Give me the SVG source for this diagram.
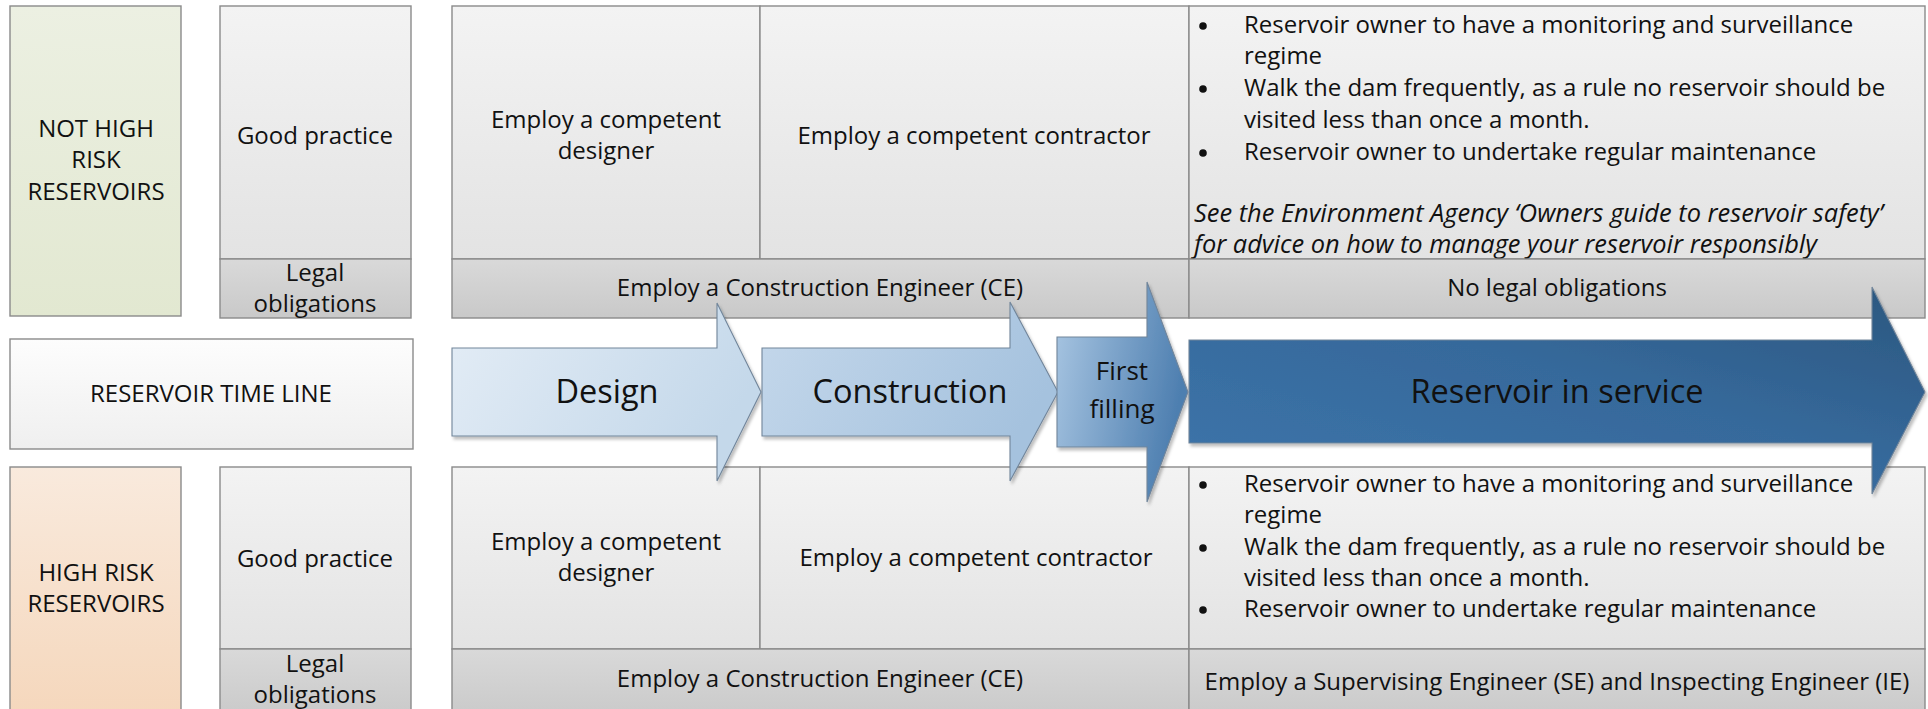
<svg xmlns="http://www.w3.org/2000/svg" width="1928" height="709" viewBox="0 0 1928 709">
  <defs>
    <linearGradient id="gGreen" x1="0" y1="0" x2="0" y2="1">
      <stop offset="0" stop-color="#ecf0e2"/>
      <stop offset="1" stop-color="#e2e8d1"/>
    </linearGradient>
    <linearGradient id="gPeach" x1="0" y1="0" x2="0" y2="1">
      <stop offset="0" stop-color="#f9eadd"/>
      <stop offset="1" stop-color="#f5d7bc"/>
    </linearGradient>
    <linearGradient id="gPanel" x1="0" y1="0" x2="0" y2="1">
      <stop offset="0" stop-color="#f3f3f3"/>
      <stop offset="1" stop-color="#e3e3e3"/>
    </linearGradient>
    <linearGradient id="gBand" x1="0" y1="0" x2="0" y2="1">
      <stop offset="0" stop-color="#d9d9d9"/>
      <stop offset="1" stop-color="#c9c9c9"/>
    </linearGradient>
    <linearGradient id="gTime" x1="0" y1="0" x2="0" y2="1">
      <stop offset="0" stop-color="#fdfdfd"/>
      <stop offset="1" stop-color="#efefef"/>
    </linearGradient>
    <linearGradient id="gDesign" x1="0" y1="0" x2="1" y2="0.4">
      <stop offset="0" stop-color="#e4edf6"/>
      <stop offset="1" stop-color="#c4d8ea"/>
    </linearGradient>
    <linearGradient id="gConstr" x1="0" y1="0" x2="1" y2="0.4">
      <stop offset="0" stop-color="#c5d8eb"/>
      <stop offset="1" stop-color="#a5c2de"/>
    </linearGradient>
    <linearGradient id="gFill" x1="0" y1="0" x2="1" y2="0.3">
      <stop offset="0" stop-color="#aac7e3"/>
      <stop offset="1" stop-color="#4e7fb0"/>
    </linearGradient>
    <linearGradient id="gService" x1="0" y1="1" x2="1" y2="0">
      <stop offset="0" stop-color="#3d75ab"/>
      <stop offset="0.55" stop-color="#36699b"/>
      <stop offset="1" stop-color="#2b577f"/>
    </linearGradient>
    <filter id="shadow" x="-5%" y="-5%" width="110%" height="115%">
      <feDropShadow dx="2" dy="3" stdDeviation="1.5" flood-color="#000" flood-opacity="0.25"/>
    </filter>
    <style>
      .box { stroke: #8a8a8a; stroke-width: 1.4; }
      .arrow { stroke: #71859a; stroke-width: 1.1; filter: url(#shadow); }
      .dot { fill: #111; }
      text { font-family: "Open Sans", "Noto Sans", "DejaVu Sans", sans-serif; fill: #111; }
      .t { font-size: 24px; }
      .c { text-anchor: middle; }
      .it { font-style: italic; font-size: 25.4px; }
      .big { font-size: 32.5px; text-anchor: middle; }
      .mid { font-size: 26px; text-anchor: middle; }
    </style>
  </defs>

  <!-- row labels -->
  <g id="not-high-risk">
    <rect class="box" x="10" y="6" width="171" height="310" fill="url(#gGreen)"/>
    <text class="t c" x="96" y="137">NOT HIGH</text>
    <text class="t c" x="96" y="168">RISK</text>
    <text class="t c" x="96" y="200">RESERVOIRS</text>
  </g>

  <g id="time-line-label">
    <rect class="box" x="10" y="339" width="403" height="110" fill="url(#gTime)"/>
    <text class="t c" x="211" y="402">RESERVOIR TIME LINE</text>
  </g>

  <g id="high-risk">
    <rect class="box" x="10" y="467" width="171" height="250" fill="url(#gPeach)"/>
    <text class="t c" x="96" y="581">HIGH RISK</text>
    <text class="t c" x="96" y="612">RESERVOIRS</text>
  </g>

  <!-- practice / obligation headers -->
  <g id="top-practice">
    <rect class="box" x="220" y="6" width="191" height="253" fill="url(#gPanel)"/>
    <rect class="box" x="220" y="259" width="191" height="59" fill="url(#gBand)"/>
    <text class="t c" x="315" y="144">Good practice</text>
    <text class="t c" x="315" y="281">Legal</text>
    <text class="t c" x="315" y="312">obligations</text>
  </g>

  <g id="bottom-practice">
    <rect class="box" x="220" y="467" width="191" height="182" fill="url(#gPanel)"/>
    <rect class="box" x="220" y="649" width="191" height="70" fill="url(#gBand)"/>
    <text class="t c" x="315" y="567">Good practice</text>
    <text class="t c" x="315" y="672">Legal</text>
    <text class="t c" x="315" y="703">obligations</text>
  </g>

  <!-- not high risk reservoirs: requirements along the time line -->
  <g id="top-designer">
    <rect class="box" x="452" y="6" width="308" height="253" fill="url(#gPanel)"/>
    <text class="t c" x="606" y="128">Employ a competent</text>
    <text class="t c" x="606" y="159">designer</text>
  </g>
  <g id="top-contractor">
    <rect class="box" x="760" y="6" width="429" height="253" fill="url(#gPanel)"/>
    <text class="t c" x="974" y="144">Employ a competent contractor</text>
  </g>
  <g id="top-service">
    <rect class="box" x="1189" y="6" width="736" height="253" fill="url(#gPanel)"/>
    <circle class="dot" cx="1203" cy="26" r="3.8"/>
    <text class="t" x="1244" y="33">Reservoir owner to have a monitoring and surveillance</text>
    <text class="t" x="1244" y="64">regime</text>
    <circle class="dot" cx="1203" cy="89" r="3.8"/>
    <text class="t" x="1244" y="96">Walk the dam frequently, as a rule no reservoir should be</text>
    <text class="t" x="1244" y="128">visited less than once a month.</text>
    <circle class="dot" cx="1203" cy="153" r="3.8"/>
    <text class="t" x="1244" y="160">Reservoir owner to undertake regular maintenance</text>
    <text class="it" x="1194" y="222">See the Environment Agency ‘Owners guide to reservoir safety’</text>
    <text class="it" x="1194" y="253">for advice on how to manage your reservoir responsibly</text>
  </g>
  <g id="top-ce">
    <rect class="box" x="452" y="259" width="737" height="59" fill="url(#gBand)"/>
    <text class="t c" x="820" y="296">Employ a Construction Engineer (CE)</text>
  </g>
  <g id="top-no-legal">
    <rect class="box" x="1189" y="259" width="736" height="59" fill="url(#gBand)"/>
    <text class="t c" x="1557" y="296">No legal obligations</text>
  </g>

  <!-- high risk reservoirs: requirements along the time line -->
  <g id="bottom-designer">
    <rect class="box" x="452" y="467" width="308" height="182" fill="url(#gPanel)"/>
    <text class="t c" x="606" y="550">Employ a competent</text>
    <text class="t c" x="606" y="581">designer</text>
  </g>
  <g id="bottom-contractor">
    <rect class="box" x="760" y="467" width="429" height="182" fill="url(#gPanel)"/>
    <text class="t c" x="976" y="566">Employ a competent contractor</text>
  </g>
  <g id="bottom-service">
    <rect class="box" x="1189" y="467" width="736" height="182" fill="url(#gPanel)"/>
    <circle class="dot" cx="1203" cy="485" r="3.8"/>
    <text class="t" x="1244" y="492">Reservoir owner to have a monitoring and surveillance</text>
    <text class="t" x="1244" y="523">regime</text>
    <circle class="dot" cx="1203" cy="548" r="3.8"/>
    <text class="t" x="1244" y="555">Walk the dam frequently, as a rule no reservoir should be</text>
    <text class="t" x="1244" y="586">visited less than once a month.</text>
    <circle class="dot" cx="1203" cy="610" r="3.8"/>
    <text class="t" x="1244" y="617">Reservoir owner to undertake regular maintenance</text>
  </g>
  <g id="bottom-ce">
    <rect class="box" x="452" y="649" width="737" height="70" fill="url(#gBand)"/>
    <text class="t c" x="820" y="687">Employ a Construction Engineer (CE)</text>
  </g>
  <g id="bottom-se-ie">
    <rect class="box" x="1189" y="649" width="736" height="70" fill="url(#gBand)"/>
    <text class="t c" x="1557" y="690">Employ a Supervising Engineer (SE) and Inspecting Engineer (IE)</text>
  </g>

  <!-- time line stage arrows -->
  <g id="connectors">
    <g id="stage-design">
      <polygon class="arrow" points="452,348 717,348 717,303 761,392 717,481 717,436 452,436" fill="url(#gDesign)"/>
      <text class="big" x="607" y="403">Design</text>
    </g>
    <g id="stage-construction">
      <polygon class="arrow" points="762,348 1010,348 1010,302 1058,392 1010,481 1010,436 762,436" fill="url(#gConstr)"/>
      <text class="big" x="910" y="403">Construction</text>
    </g>
    <g id="stage-first-filling">
      <polygon class="arrow" points="1057,337 1147,337 1147,282 1188,392 1147,502 1147,447 1057,447" fill="url(#gFill)"/>
      <text class="mid" x="1122" y="380">First</text>
      <text class="mid" x="1122" y="418">filling</text>
    </g>
    <g id="stage-in-service">
      <polygon class="arrow" points="1189,340 1872,340 1872,287 1925,392 1872,494 1872,443 1189,443" fill="url(#gService)"/>
      <text class="big" x="1557" y="403">Reservoir in service</text>
    </g>
  </g>
</svg>
